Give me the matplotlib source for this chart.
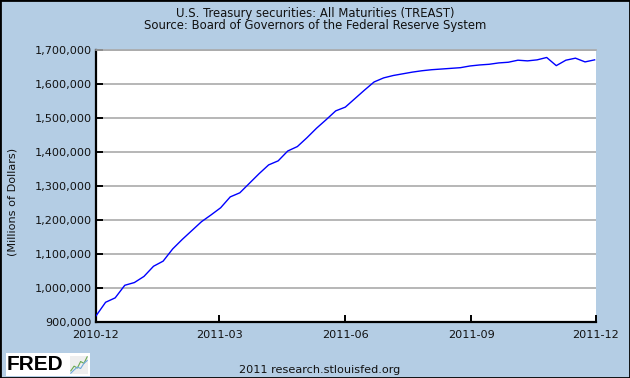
import datetime as dt

import matplotlib
matplotlib.use("Agg")
import matplotlib.pyplot as plt
import matplotlib.dates as mdates
import matplotlib.ticker as ticker
from matplotlib.patches import Rectangle

# Weekly series, Wednesdays from 2010-12-01 to 2011-11-30 (millions of dollars)
start = dt.date(2010, 12, 1)
values = [
    918000, 958000, 971000, 1008000, 1016000, 1034000, 1064000, 1079000,
    1115000, 1143000, 1169000, 1195000, 1215000, 1236000, 1268000, 1280000,
    1308000, 1336000, 1362000, 1374000, 1403000, 1416000, 1442000, 1470000,
    1495000, 1521000, 1532000, 1557000, 1582000, 1606000, 1618000, 1625000,
    1630000, 1635000, 1639000, 1642000, 1644000, 1646000, 1648000, 1653000,
    1656000, 1658000, 1662000, 1664000, 1670000, 1668000, 1671000, 1678000,
    1654000, 1670000, 1676000, 1665000, 1671000,
]
dates = [start + dt.timedelta(weeks=i) for i in range(len(values))]

x_ticks = [dt.date(2010, 12, 1), dt.date(2011, 3, 1), dt.date(2011, 6, 1),
           dt.date(2011, 9, 1), dt.date(2011, 12, 1)]
y_ticks = list(range(900000, 1700001, 100000))

title_lines = ["U.S. Treasury securities: All Maturities (TREAST)",
               "Source: Board of Governors of the Federal Reserve System"]

# small decorative logo icon
icon_a = [1, 2, 1.6, 3, 2.6, 4]
icon_b = [0.5, 1.2, 1.8, 1.5, 2.6, 3.2]

BG = "#b4cde4"
TXT = "#111111"
FS = 8.1
W, H = 630, 378

fig = plt.figure(figsize=(W / 100, H / 100), dpi=100)
fig.patch.set_facecolor(BG)

ax = fig.add_axes([96 / W, 1 - 322 / H, 500 / W, 272 / H])
ax.set_facecolor("white")
ax.plot(dates, values, color="#0000ff", linewidth=1.0, zorder=3)

ax.set_xlim(x_ticks[0], x_ticks[-1])
ax.set_ylim(900000, 1700000)
ax.set_xticks(x_ticks)
ax.xaxis.set_major_formatter(mdates.DateFormatter("%Y-%m"))
ax.set_yticks(y_ticks)
ax.yaxis.set_major_formatter(ticker.FuncFormatter(lambda v, p: f"{int(v):,}"))

ax.grid(axis="y", color="#aaaaaa", linewidth=1.2, zorder=1)
ax.spines["right"].set_visible(False)
ax.spines["top"].set_color("#aaaaaa")
ax.spines["top"].set_linewidth(1.2)
for side in ("left", "bottom"):
    ax.spines[side].set_color("black")
    ax.spines[side].set_linewidth(1.6)
ax.tick_params(axis="both", direction="in", length=5, width=1.4, color="black",
               labelsize=FS, labelcolor=TXT, pad=3)
ax.tick_params(axis="x", pad=6)

fig.text(13 / W, 1 - 202 / H, "(Millions of Dollars)", rotation=90,
         ha="center", va="center", fontsize=FS, color=TXT)
fig.text(0.5, 1 - 14 / H, title_lines[0], ha="center", va="center",
         fontsize=8.4, color=TXT)
fig.text(0.5, 1 - 26 / H, title_lines[1], ha="center", va="center",
         fontsize=8.4, color=TXT)
fig.text(320 / W, 1 - 370 / H, "2011 research.stlouisfed.org", ha="center",
         va="center", fontsize=FS, color=TXT)

# FRED logo
fig.patches.append(Rectangle((6 / W, 1 - 376 / H), 84 / W, 23 / H,
                             transform=fig.transFigure, facecolor="white",
                             edgecolor="none", zorder=1))
fig.text(7 / W, 1 - 364 / H, "FRED", ha="left", va="center", fontsize=15,
         fontweight="bold", color="black", family="Liberation Sans", zorder=2)
icon = fig.add_axes([70 / W, 1 - 374 / H, 18 / W, 18 / H], zorder=3)
icon.plot(icon_a, color="#6aa84f", linewidth=0.8)
icon.plot(icon_b, color="#6fa8dc", linewidth=0.8)
icon.set_facecolor("#eeeeee")
icon.set_xticks([])
icon.set_yticks([])
for s in icon.spines.values():
    s.set_visible(False)

# outer border
fig.patches.append(Rectangle((0, 0), 1, 1, transform=fig.transFigure,
                             facecolor="none", edgecolor="black", linewidth=2,
                             zorder=5))

fig.savefig("out.png", dpi=100, facecolor=BG)
